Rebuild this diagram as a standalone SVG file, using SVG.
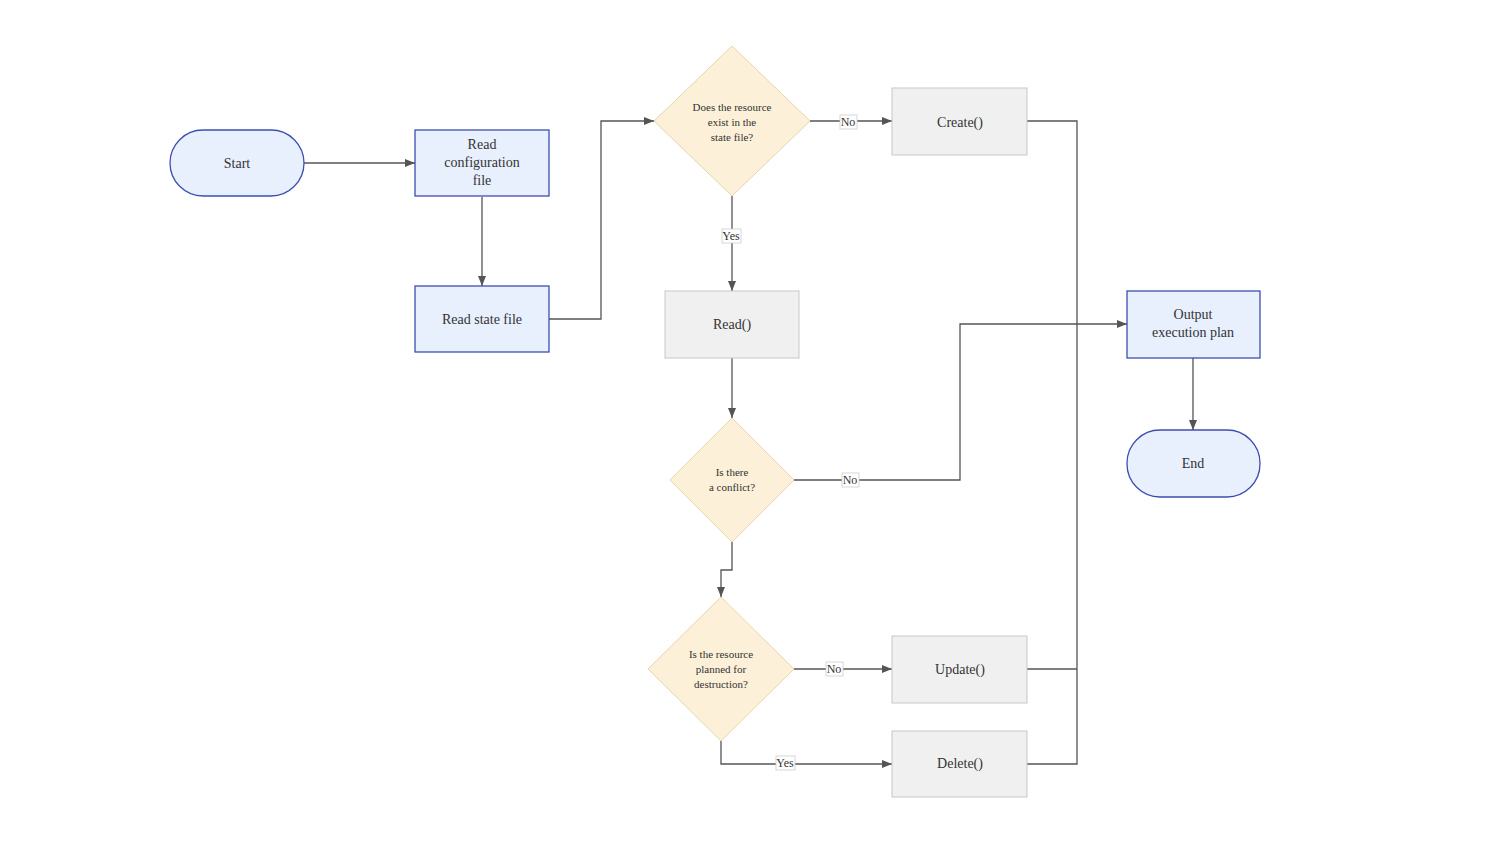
<svg xmlns="http://www.w3.org/2000/svg" width="1500" height="844" viewBox="0 0 1500 844">
<style>
text{font-family:"Liberation Serif","Times New Roman",serif;fill:#333;text-anchor:middle}
.b{fill:#e8effd;stroke:#3c4fb0;stroke-width:1.3}
.g{fill:#f0f0f0;stroke:#c8c8c8;stroke-width:1}
.d{fill:#fcf0d8;stroke:#e5d6b0;stroke-width:1}
.c{fill:none;stroke:#555;stroke-width:1.3}
.lb{fill:#fff;stroke:#ccc;stroke-width:0.8}
.n{font-size:14px}
.s{font-size:11px}
.l{font-size:12px}
</style>
<defs><marker id="a" viewBox="0 0 10 10" refX="10" refY="5" markerWidth="8" markerHeight="8" orient="auto"><path d="M0,1L10,5L0,9z" fill="#555"/></marker></defs>
<rect width="1500" height="844" fill="#fff"/>
<g id="connectors">
<path class="c" d="M304,163H415" marker-end="url(#a)"/>
<path class="c" d="M482,197V286" marker-end="url(#a)"/>
<path class="c" d="M549,319H601V121H654" marker-end="url(#a)"/>
<path class="c" d="M810,121H892" marker-end="url(#a)"/>
<path class="c" d="M732,196V291" marker-end="url(#a)"/>
<path class="c" d="M732,358V418" marker-end="url(#a)"/>
<path class="c" d="M794,480H960V324H1127" marker-end="url(#a)"/>
<path class="c" d="M732,542V570H721V597" marker-end="url(#a)"/>
<path class="c" d="M794,669H892" marker-end="url(#a)"/>
<path class="c" d="M721,741V764H892" marker-end="url(#a)"/>
<path class="c" d="M1027,121H1077V764H1027M1027,669H1077"/>
<path class="c" d="M1193,358V430" marker-end="url(#a)"/>
<rect class="lb" x="840" y="115" width="17" height="14"/><text class="l" x="848" y="126">No</text>
<rect class="lb" x="722" y="229" width="19" height="14"/><text class="l" x="731" y="240">Yes</text>
<rect class="lb" x="842" y="473" width="17" height="14"/><text class="l" x="850" y="484">No</text>
<rect class="lb" x="826" y="662" width="17" height="14"/><text class="l" x="834" y="673">No</text>
<rect class="lb" x="776" y="756" width="19" height="14"/><text class="l" x="785" y="767">Yes</text>
</g>
<g id="start"><rect class="b" x="170" y="130" width="134" height="66" rx="33"/><text class="n" x="237" y="168">Start</text></g>
<g id="readConfig"><rect class="b" x="415" y="130" width="134" height="66"/><text class="n" x="482" y="149">Read</text><text class="n" x="482" y="167">configuration</text><text class="n" x="482" y="185">file</text></g>
<g id="readState"><rect class="b" x="415" y="286" width="134" height="66"/><text class="n" x="482" y="324">Read state file</text></g>
<g id="exists"><path class="d" d="M732,46L810,121L732,196L654,121z"/><text class="s" x="732" y="111">Does the resource</text><text class="s" x="732" y="126">exist in the</text><text class="s" x="732" y="141">state file?</text></g>
<g id="create"><rect class="g" x="892" y="88" width="135" height="67"/><text class="n" x="960" y="127">Create()</text></g>
<g id="read"><rect class="g" x="665" y="291" width="134" height="67"/><text class="n" x="732" y="329">Read()</text></g>
<g id="conflict"><path class="d" d="M732,418L794,480L732,542L670,480z"/><text class="s" x="732" y="476">Is there</text><text class="s" x="732" y="491">a conflict?</text></g>
<g id="destroy"><path class="d" d="M721,597L794,669L721,741L648,669z"/><text class="s" x="721" y="658">Is the resource</text><text class="s" x="721" y="673">planned for</text><text class="s" x="721" y="688">destruction?</text></g>
<g id="update"><rect class="g" x="892" y="636" width="135" height="67"/><text class="n" x="960" y="674">Update()</text></g>
<g id="delete"><rect class="g" x="892" y="731" width="135" height="66"/><text class="n" x="960" y="768">Delete()</text></g>
<g id="output"><rect class="b" x="1127" y="291" width="133" height="67"/><text class="n" x="1193" y="319">Output</text><text class="n" x="1193" y="337">execution plan</text></g>
<g id="end"><rect class="b" x="1127" y="430" width="133" height="67" rx="33"/><text class="n" x="1193" y="468">End</text></g>
</svg>
